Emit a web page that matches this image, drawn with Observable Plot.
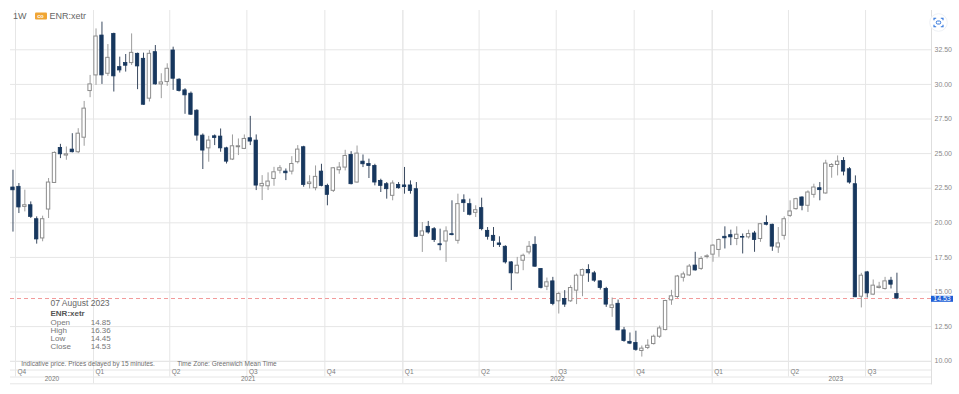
<!DOCTYPE html>
<html><head><meta charset="utf-8">
<script src="https://cdn.jsdelivr.net/npm/d3@7"></script>
<script src="https://cdn.jsdelivr.net/npm/@observablehq/plot@0.6"></script>
<style>
body{margin:0;background:#fff;font-family:"Liberation Sans",Arial,sans-serif;}
#wrap{position:relative;width:959px;height:394px;overflow:hidden;}
.ov{position:absolute;white-space:nowrap;line-height:1;transform:translateY(-50%);}
</style></head><body><div id="wrap"></div>
<script>
// ---- data ----
const interval = "1W";
const symbol = "ENR:xetr";
const firstWeek = "2020-09-28";
const opens = [22.55,22.60,21.15,21.27,20.26,18.87,20.96,22.88,25.41,24.86,
25.29,25.10,26.15,29.52,30.65,33.53,30.77,33.65,31.25,31.54,
31.54,32.21,31.85,28.97,32.33,30.00,30.17,32.45,30.34,29.57,
29.33,28.10,26.30,25.38,26.25,26.23,25.38,24.57,25.46,25.34,
26.11,25.94,22.64,22.64,23.17,23.77,23.70,23.70,24.38,25.46,
22.80,22.50,23.70,22.67,22.31,23.80,23.99,24.90,22.91,24.42,
24.25,24.11,23.03,22.79,21.95,22.74,22.70,22.70,22.43,19.06,
19.71,19.54,18.45,18.65,19.18,18.70,21.63,21.35,20.72,21.06,
19.42,19.06,18.51,18.27,17.14,16.35,17.26,17.86,18.41,16.66,
15.38,15.77,14.33,14.50,14.33,15.10,16.18,16.59,16.35,15.77,
15.22,13.85,14.15,12.23,11.40,11.32,10.74,10.96,11.24,11.77,
12.25,14.40,14.64,16.03,16.20,16.91,16.67,17.53,17.70,18.04,
18.99,19.11,18.83,18.97,18.95,19.23,18.83,19.98,19.86,18.22,
19.06,20.50,20.99,21.83,21.23,22.02,22.50,22.12,24.04,24.18,
24.47,23.87,22.79,14.66,16.42,14.81,15.29,15.22,15.82,14.85];
const highs = [23.80,22.84,22.36,21.51,20.43,20.48,23.20,25.12,25.67,25.48,
26.44,26.80,28.77,30.65,34.01,34.50,32.88,33.70,31.97,32.16,
33.65,32.26,32.26,32.45,32.81,30.77,31.49,32.69,30.41,29.69,
29.45,28.17,26.42,26.25,26.35,26.78,25.46,26.35,26.06,26.35,
27.69,26.35,23.41,23.61,24.01,24.13,23.89,24.78,25.58,25.53,
23.40,24.11,24.23,22.79,23.99,24.35,25.24,25.14,25.55,24.90,
24.60,24.23,23.15,22.91,23.03,22.91,24.00,23.03,22.91,20.02,
20.10,19.66,19.54,19.71,21.59,22.07,22.02,21.71,21.23,21.78,
19.66,19.66,18.99,18.34,17.20,17.50,17.74,18.65,18.99,16.70,
16.01,16.06,14.98,15.10,15.46,16.30,16.66,16.97,16.49,15.82,
15.34,14.57,14.42,12.44,12.04,12.17,11.10,11.55,11.89,12.54,
14.40,15.12,16.20,16.44,16.99,17.87,17.56,17.70,18.42,18.83,
19.71,19.47,19.71,19.19,19.47,19.38,19.95,20.50,19.90,19.66,
20.43,21.59,21.78,21.88,22.31,22.79,22.91,24.52,24.28,24.83,
24.71,23.99,23.39,16.35,16.49,15.87,15.70,16.06,16.06,16.36];
const lows = [19.33,20.67,20.79,20.31,18.46,18.63,20.31,22.84,24.64,24.52,
25.05,25.00,25.53,29.04,29.93,30.00,30.58,29.45,30.82,30.89,
31.37,29.62,28.49,28.73,29.95,28.97,29.86,29.57,29.45,27.84,
27.76,25.90,23.85,24.38,25.58,25.10,24.25,24.50,24.86,25.29,
25.58,22.33,21.61,22.33,22.64,23.53,23.05,23.46,24.25,22.57,
22.45,22.31,22.60,21.23,22.19,23.51,23.75,22.74,22.86,23.99,
23.20,22.67,22.19,21.71,21.59,22.43,22.07,22.07,18.94,17.86,
19.18,18.58,17.98,17.14,19.06,18.46,20.75,20.50,20.38,19.42,
18.75,18.22,18.22,17.02,15.10,16.30,16.54,17.69,16.78,15.22,
15.10,14.01,13.41,13.89,14.25,14.09,14.66,15.70,15.70,15.14,
13.89,13.17,12.21,11.37,11.20,10.72,10.30,10.84,11.17,11.65,
12.20,14.04,14.52,15.72,16.12,16.51,16.56,17.39,17.15,17.51,
18.11,18.35,18.35,17.75,18.83,17.87,18.59,19.78,17.94,17.79,
18.75,20.38,20.91,20.87,20.75,21.78,21.59,22.07,23.22,23.39,
23.39,22.79,14.60,13.85,14.57,14.74,15.22,15.14,15.22,14.45];
const closes = [22.35,21.11,21.27,20.43,18.80,20.26,22.91,25.05,24.95,24.95,
25.10,26.44,28.25,30.00,33.46,30.65,31.92,30.58,31.01,31.35,
32.28,31.30,28.53,32.21,30.00,30.14,31.13,30.41,29.52,29.21,
27.81,26.30,25.22,25.94,26.13,25.38,24.42,25.53,25.53,26.06,
25.87,22.69,22.81,22.98,23.65,23.94,23.58,24.25,25.29,22.74,
22.91,23.32,22.67,22.02,23.94,23.99,24.83,22.79,25.00,24.23,
24.10,22.91,22.67,22.43,22.84,22.50,22.58,22.30,18.99,19.38,
19.30,18.75,18.38,19.38,19.11,21.35,21.42,20.58,20.91,19.54,
18.99,18.70,18.39,17.14,16.35,16.90,17.62,18.27,16.83,15.29,
15.70,14.13,14.86,14.09,15.29,16.18,16.59,16.35,15.82,15.29,
14.09,14.03,12.23,11.46,11.27,10.82,10.91,11.12,11.77,12.37,
14.35,14.69,16.12,16.27,16.84,16.56,17.39,17.58,18.35,18.76,
18.88,18.95,19.14,18.93,19.19,18.76,19.90,19.86,18.28,18.51,
20.26,20.82,21.71,21.23,22.19,22.55,22.36,24.28,24.18,24.42,
23.70,22.91,14.62,16.18,14.90,15.46,15.38,15.77,15.53,14.53];
const quarterStarts = ["2020-10-01","2021-01-01","2021-04-01","2021-07-01","2021-10-01","2022-01-01",
  "2022-04-01","2022-07-01","2022-10-01","2023-01-01","2023-04-01","2023-07-01"];
const quarterLabels = ["Q4","Q1","Q2","Q3","Q4","Q1","Q2","Q3","Q4","Q1","Q2","Q3"];
const yearStarts = ["2020-01-01","2021-01-01","2022-01-01","2023-01-01","2024-01-01"];
const yearLabels = ["2020","2021","2022","2023"];
const yTicks = [10,12.5,15,17.5,20,22.5,25,27.5,30,32.5];
const infoDate = "07 August 2023";
const infoLabels = ["Open","High","Low","Close"];
const noteTexts = ["Indicative price. Prices delayed by 15 minutes.","Time Zone: Greenwich Mean Time"];

// ---- build ----
const candles = opens.map((o,i)=>({
  date: d3.utcDay.offset(new Date(firstWeek+"T00:00Z"), 7*i),
  open:o, high:highs[i], low:lows[i], close:closes[i]}));
const up = candles.filter(d=>d.close>=d.open);
const down = candles.filter(d=>d.close<d.open);
const last = candles[candles.length-1];
const xDomain = [new Date("2020-09-25T02:00Z"), new Date("2023-09-16T19:00Z")];
const quarters = quarterStarts.map((s,i)=>({date:new Date(s+"T00:00Z"), label:quarterLabels[i]}));
const yearBounds = yearStarts.map(s=>new Date(s+"T00:00Z"));
const rightExt = d3.utcDay.offset(xDomain[1], 33);
const years = yearLabels.map((l,i)=>{
  const a = Math.max(+yearBounds[i], +xDomain[0]);
  const b = Math.min(+yearBounds[i+1], +rightExt);
  return {label:l, mid:new Date((a+b)/2)};
});
const yearLines = yearBounds.filter(d=>d>xDomain[0] && d<xDomain[1]);
const half = d=>[d3.utcHour.offset(d.date,-48), d3.utcHour.offset(d.date,48)];
const grid = "#e6e6e6";
const txt = "#7a7a7a";

const chart = Plot.plot({
  width:959, height:394, marginLeft:10, marginRight:28, marginTop:10, marginBottom:33,
  x:{type:"utc", domain:xDomain, axis:null},
  y:{domain:[9.98,35.34], axis:null},
  style:{fontFamily:"Liberation Sans, Arial, sans-serif", color:txt, background:"transparent"},
  marks:[
    Plot.gridY(yTicks,{stroke:grid, strokeOpacity:1}),
    Plot.ruleX(quarters,{x:"date", stroke:grid, insetBottom:-15.5}),
    Plot.ruleX(yearLines,{stroke:grid, insetBottom:-22.3}),
    Plot.frame({anchor:"bottom", stroke:grid}),
    Plot.frame({anchor:"bottom", stroke:grid, insetBottom:-8.5}),
    Plot.frame({anchor:"bottom", stroke:grid, insetBottom:-15.5}),
    Plot.frame({anchor:"bottom", stroke:grid, insetBottom:-22.3}),
    Plot.frame({anchor:"right", stroke:"#dedede", insetBottom:-22.3}),
    Plot.ruleY([last.close],{stroke:"#f29a9a", strokeDasharray:"4,3", insetRight:-1}),
    Plot.ruleX(up,{x:"date", y1:"low", y2:"high", stroke:"#9d9d9d", strokeWidth:1, clip:true}),
    Plot.ruleX(down,{x:"date", y1:"low", y2:"high", stroke:"#3a4a60", strokeWidth:1, clip:true}),
    Plot.rect(up,{x1:d=>half(d)[0], x2:d=>half(d)[1], y1:"open", y2:"close", fill:"white", stroke:"#8c8c8c", strokeWidth:1, clip:true}),
    Plot.rect(down,{x1:d=>half(d)[0], x2:d=>half(d)[1], y1:"open", y2:"close", fill:"#17375e", stroke:"#17375e", strokeWidth:0.8, clip:true}),
    Plot.axisY(yTicks,{anchor:"right", tickSize:0, tickPadding:3, tickFormat:d3.format(".2f"), fontSize:7, fill:"#8a8a8a"}),
    Plot.text(quarters,{x:"date", text:"label", frameAnchor:"bottom", dy:12, dx:2, textAnchor:"start", fontSize:6.5, fill:txt}),
    Plot.text(years,{x:"mid", text:"label", frameAnchor:"bottom", dy:19, fontSize:6.5, fill:txt}),
    Plot.text([noteTexts[0]],{text:d=>d, frameAnchor:"bottom-left", dx:10.7, dy:4.6, textAnchor:"start", fontSize:6.5, fill:"#6e6e6e"}),
    Plot.text([noteTexts[1]],{text:d=>d, frameAnchor:"bottom-left", dx:166.7, dy:4.6, textAnchor:"start", fontSize:6.5, fill:"#6e6e6e"})
  ]
});
const wrap = document.getElementById("wrap");
chart.style.position="absolute"; chart.style.left="0"; chart.style.top="0";
wrap.appendChild(chart);

function ov(text, left, top, css){
  const d=document.createElement("div"); d.className="ov"; d.textContent=text;
  d.style.left=left+"px"; d.style.top=top+"px"; Object.assign(d.style, css||{});
  wrap.appendChild(d); return d;
}
// header
ov(interval, 13, 16, {fontSize:"9px", color:"#666"});
ov("co", 34.5, 16, {fontSize:"5.5px", color:"#fff", background:"#f0a534", width:"12px", height:"7px", lineHeight:"7px", textAlign:"center", borderRadius:"1px", fontWeight:"bold"});
ov(symbol, 49.5, 16, {fontSize:"9px", color:"#666"});
// info box
ov(infoDate, 50.5, 303.3, {fontSize:"8.5px", color:"#666"});
ov(symbol, 50.5, 314, {fontSize:"8px", color:"#555", fontWeight:"bold"});
const infoVals = [last.open, last.high, last.low, last.close];
infoLabels.forEach((l,i)=>{
  ov(l, 50.5, 323.3+8*i, {fontSize:"8px", color:"#777"});
  ov(infoVals[i].toFixed(2), 90.7, 323.3+8*i, {fontSize:"8px", color:"#777"});
});
// price tag
const yPx = chart.scale("y").apply(last.close);
ov(last.close.toFixed(2), 931, yPx + 0.8, {fontSize:"7px", color:"#fff", background:"#1f5fd6", height:"6.4px", lineHeight:"6.6px", width:"22px", textAlign:"center"});
// icon
const ic = document.createElement("div");
ic.style.cssText="position:absolute;left:929px;top:12.5px;width:19px;height:19px;";
ic.innerHTML='<svg width="19" height="19" viewBox="0 0 19 19"><circle cx="9.5" cy="9.5" r="8.8" fill="#fff" stroke="#eef1f5" stroke-width="1"/>'+
 '<g fill="none" stroke="#2f74dc" stroke-width="1.1"><path d="M5 7.2V5.2H7.2M11.8 5.2H14V7.2M14 11.8V13.8H11.8M7.2 13.8H5V11.8"/></g>'+
 '<rect x="7.3" y="8" width="4.4" height="3" rx="1.2" fill="none" stroke="#2f74dc" stroke-width="1"/></svg>';
wrap.appendChild(ic);
</script></body></html>
